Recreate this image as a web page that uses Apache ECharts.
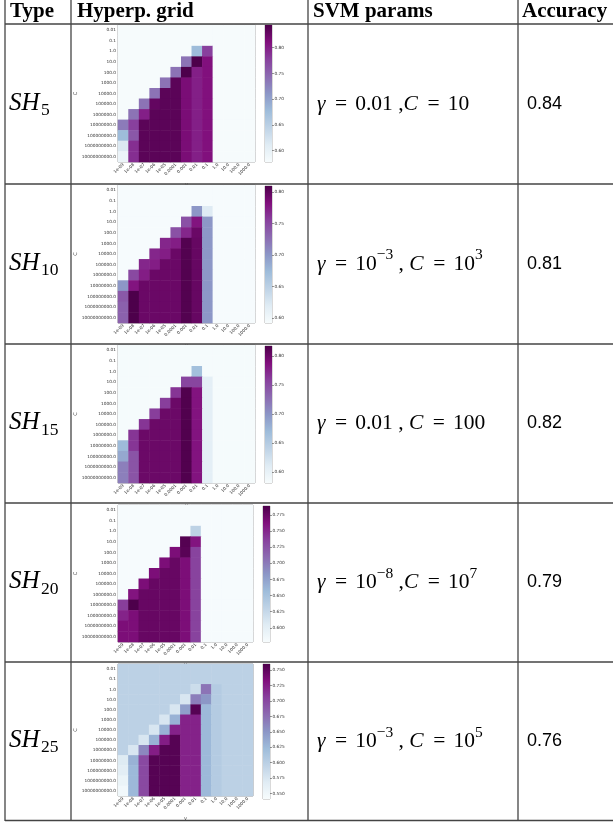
<!DOCTYPE html>
<html><head><meta charset="utf-8">
<script src="https://cdn.jsdelivr.net/npm/echarts@6/dist/echarts.min.js"></script>
<style>html,body{margin:0;padding:0;background:#fff}#c{width:613px;height:822px}</style>
</head><body><div id="c"></div><script>
// ---------- data ----------
const gammaLabels = ['1e-09','1e-08','1e-07','1e-06','1e-05','0.0001','0.001','0.01','0.1','1.0','10.0','100.0','1000.0'];
const cLabels = ['0.01','0.1','1.0','10.0','100.0','1000.0','10000.0','100000.0','1000000.0','10000000.0','100000000.0','1000000000.0','10000000000.0'];
const typeSubs = ['5','10','15','20','25'];
const accuracies = ['0.84','0.81','0.82','0.79','0.76'];

const sh5Range = [0.578, 0.844];
const sh5Ticks = [0.60, 0.65, 0.70, 0.75, 0.80];
const sh5Grid = [
 [.58,.58,.58,.58,.58,.58,.58,.58,.58,.58,.58,.58,.58],
 [.58,.58,.58,.58,.58,.58,.58,.58,.58,.58,.58,.58,.58],
 [.58,.58,.58,.58,.58,.58,.58,.678,.778,.58,.58,.58,.58],
 [.58,.58,.58,.58,.58,.58,.738,.844,.81,.58,.58,.58,.58],
 [.58,.58,.58,.58,.58,.738,.844,.80,.81,.58,.58,.58,.58],
 [.58,.58,.58,.58,.738,.835,.815,.80,.81,.58,.58,.58,.58],
 [.58,.58,.58,.738,.835,.835,.815,.80,.81,.58,.58,.58,.58],
 [.58,.58,.738,.83,.835,.835,.815,.80,.81,.58,.58,.58,.58],
 [.58,.738,.80,.835,.835,.835,.815,.80,.81,.58,.58,.58,.58],
 [.732,.778,.835,.835,.835,.835,.815,.80,.81,.58,.58,.58,.58],
 [.678,.76,.835,.835,.835,.835,.815,.80,.81,.58,.58,.58,.58],
 [.615,.79,.835,.835,.835,.835,.815,.80,.81,.58,.58,.58,.58],
 [.594,.79,.835,.835,.835,.835,.815,.80,.81,.58,.58,.58,.58]
];

const sh10Range = [0.592, 0.81];
const sh10Ticks = [0.60, 0.65, 0.70, 0.75, 0.80];
const sh10Grid = [
 [.593,.593,.593,.593,.593,.593,.593,.593,.593,.593,.593,.593,.593],
 [.593,.593,.593,.593,.593,.593,.593,.593,.593,.593,.593,.593,.593],
 [.593,.593,.593,.593,.593,.593,.593,.70,.62,.593,.593,.593,.593],
 [.593,.593,.593,.593,.593,.593,.745,.78,.70,.593,.593,.593,.593],
 [.593,.593,.593,.593,.593,.745,.77,.795,.70,.593,.593,.593,.593],
 [.593,.593,.593,.593,.77,.775,.807,.797,.70,.593,.593,.593,.593],
 [.593,.593,.593,.77,.775,.795,.807,.797,.70,.593,.593,.593,.593],
 [.593,.593,.77,.775,.795,.795,.807,.797,.70,.593,.593,.593,.593],
 [.593,.75,.775,.795,.795,.795,.807,.797,.70,.593,.593,.593,.593],
 [.70,.78,.795,.795,.795,.795,.807,.797,.70,.593,.593,.593,.593],
 [.74,.81,.795,.795,.795,.795,.807,.797,.70,.593,.593,.593,.593],
 [.735,.81,.795,.795,.795,.795,.807,.797,.70,.593,.593,.593,.593],
 [.735,.81,.795,.795,.795,.795,.807,.797,.70,.593,.593,.593,.593]
];

const sh15Range = [0.581, 0.817];
const sh15Ticks = [0.60, 0.65, 0.70, 0.75, 0.80];
const sh15Grid = [
 [.583,.583,.583,.583,.583,.583,.583,.583,.583,.583,.583,.583,.583],
 [.583,.583,.583,.583,.583,.583,.583,.583,.583,.583,.583,.583,.583],
 [.583,.583,.583,.583,.583,.583,.583,.665,.583,.583,.583,.583,.583],
 [.583,.583,.583,.583,.583,.583,.755,.755,.605,.583,.583,.583,.583],
 [.583,.583,.583,.583,.583,.765,.815,.785,.605,.583,.583,.583,.583],
 [.583,.583,.583,.583,.76,.80,.815,.785,.605,.583,.583,.583,.583],
 [.583,.583,.583,.76,.80,.80,.815,.785,.605,.583,.583,.583,.583],
 [.583,.583,.765,.80,.80,.80,.815,.785,.605,.583,.583,.583,.583],
 [.583,.765,.80,.80,.80,.80,.815,.785,.605,.583,.583,.583,.583],
 [.67,.765,.80,.80,.80,.80,.815,.785,.605,.583,.583,.583,.583],
 [.685,.745,.80,.80,.80,.80,.815,.785,.605,.583,.583,.583,.583],
 [.715,.745,.80,.80,.80,.80,.815,.785,.605,.583,.583,.583,.583],
 [.715,.745,.80,.80,.80,.80,.815,.785,.605,.583,.583,.583,.583]
];

const sh20Range = [0.578, 0.789];
const sh20Ticks = [0.600, 0.625, 0.650, 0.675, 0.700, 0.725, 0.750, 0.775];
const sh20Grid = [
 [.579,.579,.579,.579,.579,.579,.579,.579,.579,.579,.579,.579,.579],
 [.579,.579,.579,.579,.579,.579,.579,.579,.579,.579,.579,.579,.579],
 [.579,.579,.579,.579,.579,.579,.579,.632,.579,.579,.579,.579,.579],
 [.579,.579,.579,.579,.579,.579,.785,.76,.579,.579,.579,.579,.579],
 [.579,.579,.579,.579,.579,.765,.783,.735,.579,.579,.579,.579,.579],
 [.579,.579,.579,.579,.765,.776,.765,.735,.579,.579,.579,.579,.579],
 [.579,.579,.579,.765,.776,.776,.765,.735,.579,.579,.579,.579,.579],
 [.579,.579,.765,.776,.776,.776,.765,.735,.579,.579,.579,.579,.579],
 [.579,.76,.776,.776,.776,.776,.765,.735,.579,.579,.579,.579,.579],
 [.738,.789,.776,.776,.776,.776,.765,.735,.579,.579,.579,.579,.579],
 [.752,.765,.776,.776,.776,.776,.765,.735,.579,.579,.579,.579,.579],
 [.765,.765,.776,.776,.776,.776,.765,.735,.579,.579,.579,.579,.579],
 [.765,.765,.776,.776,.776,.776,.765,.735,.579,.579,.579,.579,.579]
];

const sh25Range = [0.541, 0.760];
const sh25Ticks = [0.550, 0.575, 0.600, 0.625, 0.650, 0.675, 0.700, 0.725, 0.750];
const sh25Grid = [
 [.598,.598,.598,.598,.598,.598,.598,.598,.598,.598,.598,.598,.598],
 [.598,.598,.598,.598,.598,.598,.598,.598,.598,.598,.598,.598,.598],
 [.598,.598,.598,.598,.598,.598,.598,.585,.672,.605,.598,.598,.598],
 [.598,.598,.598,.598,.598,.598,.575,.665,.65,.605,.598,.598,.598],
 [.598,.598,.598,.598,.598,.575,.645,.755,.625,.605,.598,.598,.598],
 [.598,.598,.598,.598,.575,.63,.722,.722,.625,.605,.598,.598,.598],
 [.598,.598,.598,.575,.63,.722,.722,.722,.625,.605,.598,.598,.598],
 [.598,.598,.575,.63,.725,.755,.722,.722,.625,.605,.598,.598,.598],
 [.598,.575,.66,.725,.755,.755,.722,.722,.625,.605,.598,.598,.598],
 [.57,.63,.70,.755,.755,.755,.722,.722,.625,.605,.598,.598,.598],
 [.565,.625,.70,.755,.755,.755,.722,.722,.625,.605,.598,.598,.598],
 [.555,.625,.70,.755,.755,.755,.722,.722,.625,.605,.598,.598,.598],
 [.548,.625,.70,.755,.755,.755,.722,.722,.625,.605,.598,.598,.598]
];

const svmParts = [
 [['γ','i'],['','rs'],['=','n'],['','rs'],['0.01','n'],[' ,','n'],['C','i'],['','rs'],['=','n'],['','rs'],['10','n']],
 [['γ','i'],['','rs'],['=','n'],['','rs'],['10','n'],['−3','sup'],[' , ','n'],['C','i'],['','rs'],['=','n'],['','rs'],['10','n'],['3','sup']],
 [['γ','i'],['','rs'],['=','n'],['','rs'],['0.01','n'],[' , ','n'],['C','i'],['','rs'],['=','n'],['','rs'],['100','n']],
 [['γ','i'],['','rs'],['=','n'],['','rs'],['10','n'],['−8','sup'],[' ,','n'],['C','i'],['','rs'],['=','n'],['','rs'],['10','n'],['7','sup']],
 [['γ','i'],['','rs'],['=','n'],['','rs'],['10','n'],['−3','sup'],[' , ','n'],['C','i'],['','rs'],['=','n'],['','rs'],['10','n'],['5','sup']]
];

const grids = [sh5Grid, sh10Grid, sh15Grid, sh20Grid, sh25Grid];
const ranges = [sh5Range, sh10Range, sh15Range, sh20Range, sh25Range];
const ticks = [sh5Ticks, sh10Ticks, sh15Ticks, sh20Ticks, sh25Ticks];
const tickDigits = [2, 2, 2, 3, 3];

// ---------- layout ----------
const BuPu = ['#f7fcfd','#e0ecf4','#bfd3e6','#9ebcda','#8c96c6','#8c6bb1','#88419d','#810f7c','#4d004b'];
const rowLines = [24, 184, 344, 503, 662, 820.5];
const colLines = [5, 71, 308, 518];
const heatBoxes = [[118,25,137,137],[118,185,137,138],[118,345,137,138],[118,505,135,137],[118,664,135,135]];
const cbBoxes = [[265,25,7,137],[265,186,7,137],[265,346,7,137],[263,506,7,136],[263,664,7,135]];
const tinyFont = 'DejaVu Sans';
const serif = '"Liberation Serif"';

const ctx = document.createElement('canvas').getContext('2d');
function mathText(x, yMid, parts, size, fam) {
  const els = []; let cx = x;
  for (const [t, st] of parts) {
    if (st === 'rs') { cx += size * 0.38; continue; }
    let s = size, dy = 0, ital = (st === 'i');
    if (st === 'sup') { s = size * 0.72; dy = -size * 0.4; }
    if (st === 'sub') { s = size * 0.7; dy = size * 0.3; }
    const f = (ital ? 'italic ' : '') + s.toFixed(1) + 'px ' + fam;
    ctx.font = f;
    els.push({type:'text', z: 10, style:{text:t, x:cx, y:yMid+dy, font:f, fill:'#000', align:'left', verticalAlign:'middle'}});
    cx += ctx.measureText(t).width + (ital ? size * 0.06 : 0);
  }
  return els;
}

const graphic = [];
for (const x of colLines) graphic.push({type:'line', z:5, shape:{x1:x,y1:0,x2:x,y2:821}, style:{stroke:'#444', lineWidth:1.3}});
for (const y of rowLines) graphic.push({type:'line', z:5, shape:{x1:5,y1:y,x2:613,y2:y}, style:{stroke:'#444', lineWidth:1.3}});
const headers = [['Type',10],['Hyperp. grid',77],['SVM params',313],['Accuracy',522]];
for (const [t,x] of headers) graphic.push({type:'text', z:10, style:{text:t, x:x, y:12, font:'bold 21px ' + serif, fill:'#000', verticalAlign:'middle'}});
for (let i = 0; i < 5; i++) {
  const yMid = (rowLines[i] + rowLines[i+1]) / 2;
  graphic.push(...mathText(9, yMid - 1, [['SH','i'],[typeSubs[i],'sub']], 25, serif));
  graphic.push(...mathText(317, yMid, svmParts[i], 21.5, serif));
  graphic.push({type:'text', z:10, style:{text:accuracies[i], x:527, y:yMid, font:'18px "Liberation Sans"', fill:'#000', verticalAlign:'middle'}});
}

const option = {
  animation: false,
  backgroundColor: '#fff',
  grid: [], xAxis: [], yAxis: [], series: [], visualMap: [],
  graphic: graphic
};
for (let i = 0; i < 5; i++) {
  const [hl, ht, hw, hh] = heatBoxes[i];
  const [cl, ct, cw, ch] = cbBoxes[i];
  option.grid.push({left:hl, top:ht, width:hw, height:hh, show:true, borderColor:'#555', borderWidth:0.6, backgroundColor:'transparent'});
  option.grid.push({left:cl, top:ct, width:cw, height:ch, show:true, borderColor:'#666', borderWidth:0.5, backgroundColor:'transparent'});
  option.xAxis.push({type:'category', gridIndex:2*i, data:gammaLabels, name:'γ', nameLocation:'middle', nameGap:20,
    nameTextStyle:{fontSize:5, fontFamily:tinyFont, color:'#333'},
    axisLine:{show:false}, axisTick:{alignWithLabel:true, interval:0, length:1.5, lineStyle:{color:'#333', width:0.5}},
    axisLabel:{interval:0, rotate:45, fontSize:4.3, fontFamily:tinyFont, color:'#333', margin:2}, splitLine:{show:false}});
  option.yAxis.push({type:'category', gridIndex:2*i, data:cLabels, inverse:true, name:'C', nameLocation:'middle', nameGap:40, nameRotate:90,
    nameTextStyle:{fontSize:5, fontFamily:tinyFont, color:'#333'},
    axisLine:{show:false}, axisTick:{alignWithLabel:true, interval:0, length:1.5, lineStyle:{color:'#333', width:0.5}},
    axisLabel:{interval:0, fontSize:4.3, fontFamily:tinyFont, color:'#333', margin:2}, splitLine:{show:false}});
  option.xAxis.push({type:'category', gridIndex:2*i+1, data:['cb'], show:false});
  option.yAxis.push({type:'value', gridIndex:2*i+1, min:ranges[i][0], max:ranges[i][1], position:'right',
    axisLine:{show:false}, splitLine:{show:false},
    axisTick:{show:true, customValues:ticks[i], length:2, lineStyle:{color:'#333', width:0.5}},
    axisLabel:{customValues:ticks[i], formatter:(v)=>Number(v).toFixed(tickDigits[i]), fontSize:4.3, fontFamily:tinyFont, color:'#333', margin:2.5}});
  const data = [];
  grids[i].forEach((row, r) => row.forEach((v, c) => data.push([c, r, v])));
  option.series.push({type:'heatmap', xAxisIndex:2*i, yAxisIndex:2*i, data:data, itemStyle:{borderWidth:0}, emphasis:{disabled:true}, progressive:0});
  const vmin = ranges[i][0], vmax = ranges[i][1];
  option.series.push({type:'custom', xAxisIndex:2*i+1, yAxisIndex:2*i+1, data:[[0, vmax]], silent:true,
    renderItem:(params, api) => {
      const p0 = api.coord([0, vmin]); const p1 = api.coord([0, vmax]);
      const w = api.size([1, 0])[0];
      return {type:'rect', shape:{x:p0[0]-w/2, y:p1[1], width:w, height:p0[1]-p1[1]},
        style:{fill:new echarts.graphic.LinearGradient(0,1,0,0, BuPu.map((c,k)=>({offset:k/8, color:c})))}};
    }});
  option.visualMap.push({type:'continuous', show:false, seriesIndex:2*i, dimension:2, min:vmin, max:vmax, inRange:{color:BuPu}});
}
const chart = echarts.init(document.getElementById('c'), null, {renderer:'canvas'});
chart.setOption(option);
</script></body></html>
